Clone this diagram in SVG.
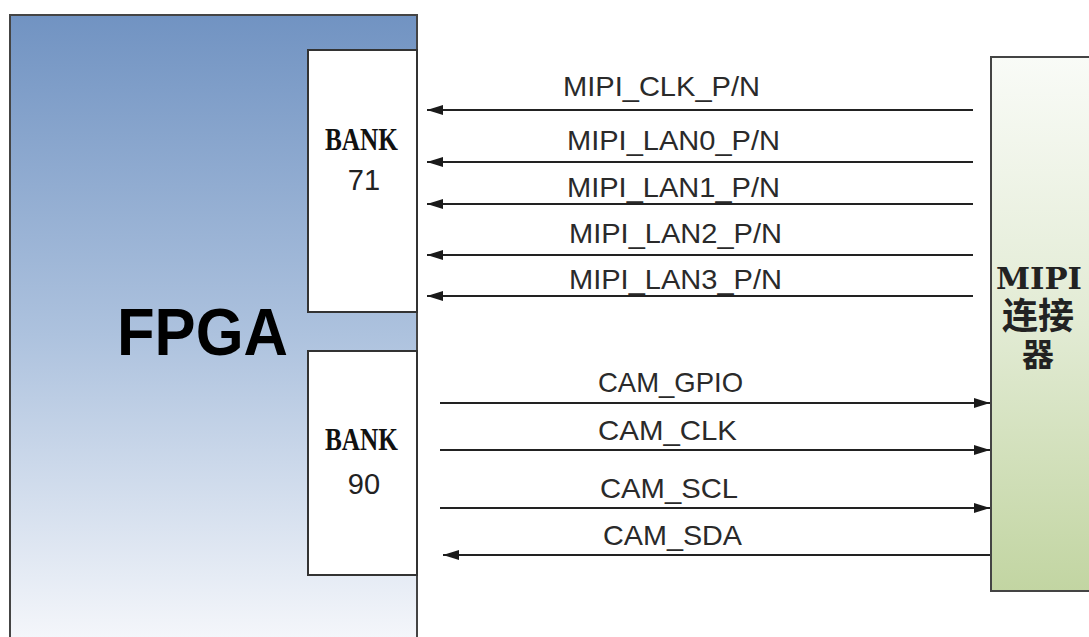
<svg xmlns="http://www.w3.org/2000/svg" width="1089" height="637" viewBox="0 0 1089 637">
<defs>
<linearGradient id="gFpga" x1="0" y1="0" x2="0" y2="1">
<stop offset="0" stop-color="#7193c2"/>
<stop offset="0.5" stop-color="#adc2de"/>
<stop offset="1" stop-color="#f8f9fc"/>
</linearGradient>
<linearGradient id="gMipi" x1="0" y1="0" x2="0" y2="1">
<stop offset="0" stop-color="#f9fbf7"/>
<stop offset="0.5" stop-color="#e2ebd4"/>
<stop offset="1" stop-color="#c2d5a2"/>
</linearGradient>
<marker id="arr" markerUnits="userSpaceOnUse" markerWidth="18" markerHeight="12" refX="16" refY="5" orient="auto">
<path d="M0,0 L16,5 L0,10 z" fill="#1a1a1a"/>
</marker>
<style>
.box{stroke:#444;stroke-width:2}
.bank{fill:#fff;stroke:#333;stroke-width:2}
.sig{font-family:"Liberation Sans",Arial,sans-serif;font-size:28px;fill:#2a2a2a}
.bk{font-family:"Liberation Serif","Times New Roman",serif;font-weight:bold;font-size:31px;fill:#111}
.num{font-family:"Liberation Sans",Arial,sans-serif;font-size:29px;fill:#222;text-anchor:middle}
.wire{stroke:#222;stroke-width:2.2;fill:none}
.cjk{font-family:"Noto Sans CJK SC",sans-serif;font-weight:bold}
</style>
</defs>
<rect width="1089" height="637" fill="#fff"/>
<g id="fpga">
<rect class="box" x="10" y="15" width="407" height="640" fill="url(#gFpga)"/>
<text x="117" y="355" font-family="'Liberation Sans',Arial,sans-serif" font-weight="bold" font-size="66" fill="#000" textLength="171" lengthAdjust="spacingAndGlyphs">FPGA</text>
</g>
<g id="bank71">
<rect class="bank" x="308" y="50" width="109" height="262"/>
<text class="bk" x="325" y="150" textLength="73" lengthAdjust="spacingAndGlyphs">BANK</text>
<text class="num" x="364" y="190">71</text>
</g>
<g id="bank90">
<rect class="bank" x="308" y="351" width="109" height="224"/>
<text class="bk" x="325" y="450" textLength="73" lengthAdjust="spacingAndGlyphs">BANK</text>
<text class="num" x="364" y="494">90</text>
</g>
<g id="mipi">
<rect class="box" x="991" y="57" width="110" height="534" fill="url(#gMipi)"/>
<text fill="#222"><tspan x="996" y="289" font-family="'DejaVu Serif','Liberation Serif',serif" font-weight="bold" font-size="29" textLength="86" lengthAdjust="spacingAndGlyphs">MIPI</tspan><tspan class="cjk" x="1038" y="329" font-size="36" text-anchor="middle">连接</tspan><tspan class="cjk" x="1038" y="366" font-size="32" text-anchor="middle">器</tspan></text>
</g>
<g id="connectors">
<line class="wire" x1="973" y1="110" x2="427" y2="110" marker-end="url(#arr)"/>
<line class="wire" x1="973" y1="162" x2="427" y2="162" marker-end="url(#arr)"/>
<line class="wire" x1="973" y1="204" x2="427" y2="204" marker-end="url(#arr)"/>
<line class="wire" x1="973" y1="255" x2="427" y2="255" marker-end="url(#arr)"/>
<line class="wire" x1="973" y1="296" x2="427" y2="296" marker-end="url(#arr)"/>
<line class="wire" x1="440" y1="403" x2="990" y2="403" marker-end="url(#arr)"/>
<line class="wire" x1="440" y1="450" x2="990" y2="450" marker-end="url(#arr)"/>
<line class="wire" x1="440" y1="508" x2="990" y2="508" marker-end="url(#arr)"/>
<line class="wire" x1="990" y1="555" x2="443" y2="555" marker-end="url(#arr)"/>
<text class="sig" x="563" y="96" textLength="197" lengthAdjust="spacingAndGlyphs">MIPI_CLK_P/N</text>
<text class="sig" x="567" y="150" textLength="213" lengthAdjust="spacingAndGlyphs">MIPI_LAN0_P/N</text>
<text class="sig" x="567" y="197" textLength="213" lengthAdjust="spacingAndGlyphs">MIPI_LAN1_P/N</text>
<text class="sig" x="569" y="243" textLength="213" lengthAdjust="spacingAndGlyphs">MIPI_LAN2_P/N</text>
<text class="sig" x="569" y="289" textLength="213" lengthAdjust="spacingAndGlyphs">MIPI_LAN3_P/N</text>
<text class="sig" x="598" y="392" textLength="145" lengthAdjust="spacingAndGlyphs">CAM_GPIO</text>
<text class="sig" x="598" y="440" textLength="139" lengthAdjust="spacingAndGlyphs">CAM_CLK</text>
<text class="sig" x="600" y="498" textLength="138" lengthAdjust="spacingAndGlyphs">CAM_SCL</text>
<text class="sig" x="603" y="545" textLength="139" lengthAdjust="spacingAndGlyphs">CAM_SDA</text>
</g>
</svg>
